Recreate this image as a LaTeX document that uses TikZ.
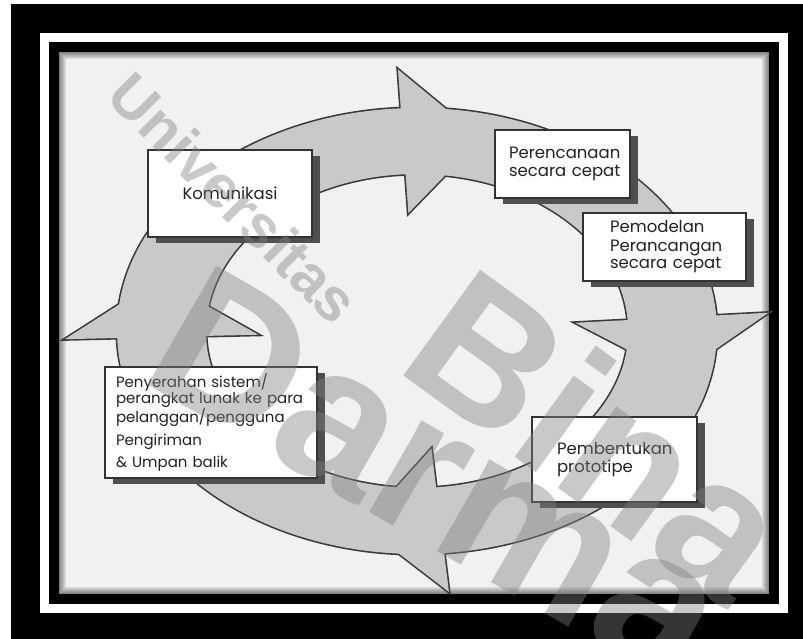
\documentclass[tikz,border=0pt]{standalone}
\usepackage{fontspec}
\setmainfont{Poppins}
\newfontfamily\markfont{Liberation Sans}
\usetikzlibrary{shadows}
\definecolor{pagegray}{HTML}{F1F1F1}
\definecolor{ringgray}{HTML}{C9C9C9}
\definecolor{ringline}{HTML}{3A3A3A}
\definecolor{boxline}{HTML}{333333}
\definecolor{boxshadow}{HTML}{4F4F4F}
\definecolor{inktext}{HTML}{222222}
\definecolor{markgray}{HTML}{808080}

\begin{document}
\begin{tikzpicture}[
    x=1pt, y=-1pt,
    font=\fontsize{16.5}{17.5}\selectfont,
    stagebox/.style={draw=boxline, fill=white, text=inktext, line width=1.3pt,
                     inner ysep=2pt, align=left,
                     drop shadow={shadow xshift=8pt, shadow yshift=-6pt,
                                  fill=boxshadow, opacity=1}},
    ringedge/.style={draw=ringline, line width=3.2pt, line join=miter},
    ringfill/.style={fill=ringgray},
    watermark/.style={font=\markfont\bfseries, text=markgray, opacity=0.42,
                      inner sep=0pt},
  ]

  % Frame and page.
  \useasboundingbox (0,0) rectangle (803,639);
  \fill[white] (0,0) rectangle (803,639);
  \fill[black] (11,4) rectangle (803,639);
  \fill[white] (40,33) rectangle (788,613);
  \fill[black] (49,42) rectangle (779,604);
  \fill[pagegray] (59,52) rectangle (769,594);
  \foreach \i [evaluate=\i as \op using 0.45-0.06*\i] in {0,...,6}
    \draw[black, opacity=\op, line width=1pt]
      (59.5+\i,52.5+\i) rectangle (768.5-\i,593.5-\i);

  % Ring with four arrowheads.
  \begin{scope}[shift={(417,331)}, xscale=1.345]
    \path[ringedge] (0,0) circle[radius=223] (0,0) circle[radius=157];
    \foreach \ang in {266.9,356,84.8,178.2}
      \path[ringedge] (\ang:118) -- (\ang+17:198.7) -- (\ang:262) -- cycle;
    \path[ringfill, even odd rule] (0,0) circle[radius=223] (0,0) circle[radius=157];
    \foreach \ang in {266.9,356,84.8,178.2}
      \path[ringfill] (\ang:118) -- (\ang+17:198.7) -- (\ang:262) -- cycle;
  \end{scope}

  % Stages.
  \node[stagebox, align=center, text width=140pt, inner xsep=12pt,
        minimum height=87pt] (komunikasi) at (230,193.5) {Komunikasi};
  \node[stagebox, text width=107pt, inner xsep=14pt,
        minimum height=68pt] (rencana) at (562.5,164) {Perencanaan\\secara~cepat};
  \node[stagebox, text width=109pt, inner xsep=27pt,
        minimum height=68pt] (model) at (664.5,247)
        {Pemodelan\\[1pt]Perancangan\\secara~cepat};
  \node[stagebox, text width=190pt, inner xsep=11pt, minimum height=111pt,
        font=\fontsize{15}{16}\selectfont] (serah) at (211,422.5)
        {Penyerahan~sistem/\\perangkat~lunak~ke~para\\pelanggan/pengguna\\[7pt]
         Pengiriman\\[6pt]\&~Umpan~balik};
  \node[stagebox, text width=115pt, inner xsep=25pt,
        minimum height=85pt] (bentuk) at (614.5,459.5) {Pembentukan\\prototipe};

  % Watermark.
  \node[watermark, font=\markfont\bfseries\fontsize{60}{60}\selectfont,
        rotate=-45] (univ) at (234,198) {Universitas};
  \node[watermark, font=\markfont\bfseries\fontsize{190}{190}\selectfont,
        rotate=-36] (bina) at (600,435) {Bina};
  \node[watermark, font=\markfont\bfseries\fontsize{200}{200}\selectfont,
        rotate=-30] (darma) at (440,475) {Darma};
\end{tikzpicture}
\end{document}
